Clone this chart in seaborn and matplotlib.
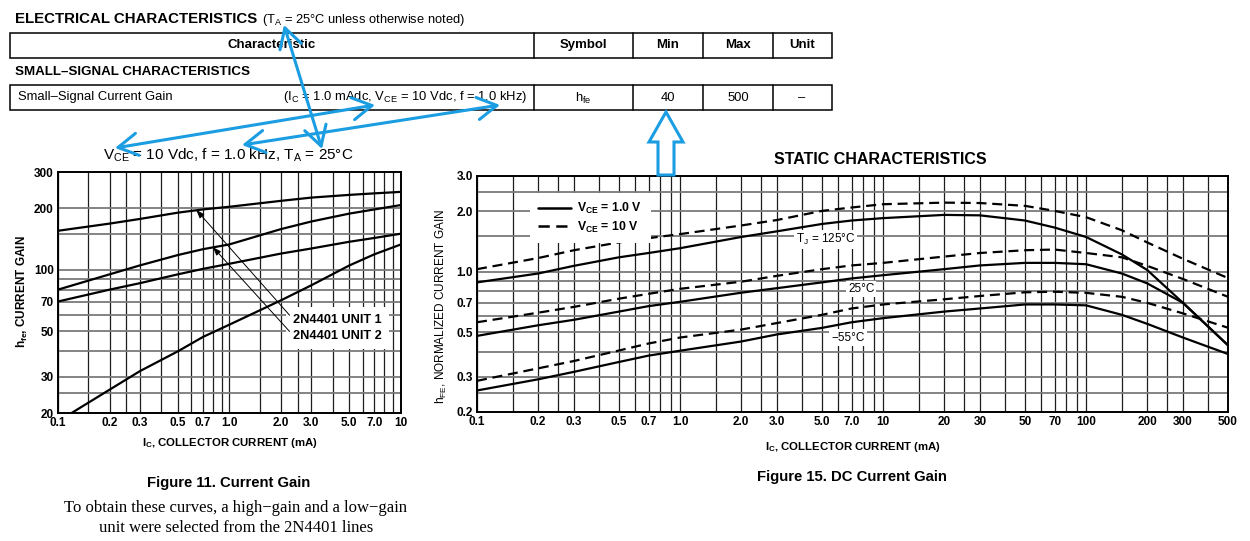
import seaborn as sns
import matplotlib.pyplot as plt
from matplotlib.patches import Rectangle, Polygon, FancyArrowPatch
from matplotlib.lines import Line2D
from matplotlib.ticker import NullFormatter

W, H = 1250, 541

# Figure 11: small-signal current gain vs collector current
ic_ss = [0.1, 0.2, 0.3, 0.5, 0.7, 1.0, 2.0, 3.0, 5.0, 7.0, 10.0]
hfe_1 = [155, 168, 177, 190, 197, 203, 217, 225, 232, 236, 240]
hfe_2 = [80, 95, 105, 118, 126, 133, 158, 172, 188, 197, 207]
hfe_3 = [70, 80, 86, 95, 101, 107, 120, 127, 137, 143, 150]
ic_ss4 = [0.12, 0.2, 0.3, 0.5, 0.7, 1.0, 2.0, 3.0, 5.0, 7.0, 10.0]
hfe_4 = [20, 26, 32, 40, 47, 54, 71, 84, 105, 119, 133]

# Figure 15: DC current gain (normalized)
ic_dc = [0.1, 0.2, 0.3, 0.5, 0.7, 1, 2, 3, 5, 7, 10, 20, 30, 50, 70, 100, 150, 200, 300, 500]
h125_10v = [1.03, 1.17, 1.28, 1.40, 1.47, 1.54, 1.70, 1.81, 2.01, 2.09, 2.17, 2.21, 2.20, 2.13, 2.01, 1.87, 1.61, 1.40, 1.16, 0.93]
h125_1v = [0.885, 0.98, 1.07, 1.18, 1.24, 1.31, 1.49, 1.59, 1.73, 1.80, 1.85, 1.92, 1.91, 1.80, 1.66, 1.49, 1.22, 1.02, 0.70, 0.43]
h25_10v = [0.56, 0.625, 0.668, 0.734, 0.776, 0.822, 0.892, 0.954, 1.03, 1.075, 1.107, 1.19, 1.24, 1.28, 1.29, 1.24, 1.18, 1.07, 0.92, 0.75]
h25_1v = [0.479, 0.541, 0.576, 0.633, 0.674, 0.708, 0.786, 0.828, 0.885, 0.926, 0.961, 1.03, 1.075, 1.107, 1.107, 1.09, 0.98, 0.875, 0.70, 0.43]
hm55_10v = [0.286, 0.33, 0.359, 0.405, 0.439, 0.47, 0.515, 0.555, 0.61, 0.656, 0.687, 0.729, 0.757, 0.79, 0.795, 0.785, 0.75, 0.70, 0.62, 0.526]
hm55_1v = [0.256, 0.291, 0.317, 0.355, 0.382, 0.404, 0.449, 0.487, 0.525, 0.56, 0.587, 0.633, 0.656, 0.687, 0.687, 0.68, 0.61, 0.55, 0.47, 0.389]

ss_xticks = [0.1, 0.2, 0.3, 0.5, 0.7, 1.0, 2.0, 3.0, 5.0, 7.0, 10]
ss_xlabels = ['0.1', '0.2', '0.3', '0.5', '0.7', '1.0', '2.0', '3.0', '5.0', '7.0', '10']
ss_yticks = [20, 30, 50, 70, 100, 200, 300]
dc_xticks = [0.1, 0.2, 0.3, 0.5, 0.7, 1, 2, 3, 5, 7, 10, 20, 30, 50, 70, 100, 200, 300, 500]
dc_xlabels = ['0.1', '0.2', '0.3', '0.5', '0.7', '1.0', '2.0', '3.0', '5.0', '7.0', '10',
              '20', '30', '50', '70', '100', '200', '300', '500']
dc_yticks = [0.2, 0.3, 0.5, 0.7, 1.0, 2.0, 3.0]
dc_ylabels = ['0.2', '0.3', '0.5', '0.7', '1.0', '2.0', '3.0']

steps = [1, 1.5, 2, 2.5, 3, 4, 5, 6, 7, 8, 9]
ss_xgrid = [s * d for d in (0.1, 1) for s in steps] + [10]
dc_xgrid = [s * d for d in (0.1, 1, 10) for s in steps] + [100, 150, 200, 250, 300, 400, 500]
ss_ygrid = [20, 25, 30, 40, 50, 60, 70, 80, 90, 100, 150, 200, 300]
dc_ygrid = [0.2, 0.25, 0.3, 0.4, 0.5, 0.6, 0.7, 0.8, 0.9, 1.0, 1.5, 2.0, 2.5, 3.0]

sns.set_style('white')
plt.rcParams['font.family'] = ['Liberation Sans', 'DejaVu Sans']
plt.rcParams['mathtext.default'] = 'regular'
plt.rcParams['text.color'] = 'black'
plt.rcParams['xtick.color'] = 'black'
plt.rcParams['ytick.color'] = 'black'
NARROW = ['Liberation Sans Narrow', 'Liberation Sans', 'DejaVu Sans']
SERIF = ['Liberation Serif', 'DejaVu Serif']
BLUE = '#1b9de2'
DASH = (0, (4.5, 2.6))

fig = plt.figure(figsize=(W / 100, H / 100), dpi=100)


def fx(x, y):
    return (x / W, 1 - y / H)


def ftext(x, y, s, **kw):
    kw.setdefault('va', 'center')
    fig.text(x / W, 1 - y / H, s, **kw)


def fline(x0, y0, x1, y1, lw=1.1, color='black'):
    fig.add_artist(Line2D([x0 / W, x1 / W], [1 - y0 / H, 1 - y1 / H],
                          transform=fig.transFigure, lw=lw, color=color))


def fbox(x0, y0, x1, y1):
    fig.add_artist(Rectangle(fx(x0, y1), (x1 - x0) / W, (y1 - y0) / H,
                             transform=fig.transFigure, fill=False, lw=1.1, ec='black'))


def make_axes(x0, y0, x1, y1):
    return fig.add_axes([x0 / W, 1 - y1 / H, (x1 - x0) / W, (y1 - y0) / H])


def style_axes(ax, xlim, ylim, xt, xl, yt, yl, xg, yg):
    ax.set_xscale('log')
    ax.set_yscale('log')
    ax.set_xlim(*xlim)
    ax.set_ylim(*ylim)
    ax.set_xticks(xt, xl)
    ax.set_yticks(yt, yl)
    ax.set_xticks(xg, minor=True)
    ax.set_yticks(yg, minor=True)
    ax.xaxis.set_minor_formatter(NullFormatter())
    ax.yaxis.set_minor_formatter(NullFormatter())
    ax.xaxis.remove_overlapping_locs = False
    ax.yaxis.remove_overlapping_locs = False
    ax.tick_params(which='both', length=0, pad=3)
    ax.xaxis.grid(True, which='minor', color='#1e1e1e', lw=0.9)
    ax.yaxis.grid(True, which='minor', color='#7a7a7a', lw=1.3)
    ax.set_axisbelow(True)
    for lab in ax.get_xticklabels() + ax.get_yticklabels():
        lab.set_fontfamily(NARROW)
        lab.set_fontweight('bold')
        lab.set_fontsize(8.5)
    for sp in ax.spines.values():
        sp.set_linewidth(1.4)
        sp.set_color('black')
    ax.set_xlabel('')
    ax.set_ylabel('')


# ---------------- header table ----------------
ftext(15, 19, 'ELECTRICAL CHARACTERISTICS', fontsize=10.8, fontweight='bold')
ftext(262, 20, r'(T$_A$ = 25°C unless otherwise noted)', fontsize=9.3)
cols = [534, 633, 703, 773]
for (ya, yb) in [(33, 58), (85, 110)]:
    fbox(10, ya, 832, yb)
    for c in cols:
        fline(c, ya, c, yb)
for cx, s in zip([272, 583, 668, 738, 802], ['Characteristic', 'Symbol', 'Min', 'Max', 'Unit']):
    ftext(cx, 45, s, fontsize=9.5, fontweight='bold', ha='center')
ftext(15, 72, 'SMALL–SIGNAL CHARACTERISTICS', fontsize=9.6, fontweight='bold')
ftext(18, 97, 'Small–Signal Current Gain', fontsize=9.4)
ftext(527, 97, r'(I$_C$ = 1.0 mAdc, V$_{CE}$ = 10 Vdc, f = 1.0 kHz)', fontsize=9.4, ha='right')
for cx, s in zip([583, 668, 738, 802], [r'h$_{fe}$', '40', '500', '–']):
    ftext(cx, 98, s, fontsize=9.4, ha='center')

# ---------------- Figure 11 ----------------
ax1 = make_axes(58, 172, 401, 413)
for xs, ys in [(ic_ss, hfe_1), (ic_ss, hfe_2), (ic_ss, hfe_3), (ic_ss4, hfe_4)]:
    sns.lineplot(x=xs, y=ys, ax=ax1, color='black', lw=1.6, errorbar=None)
style_axes(ax1, (0.1, 10), (20, 300), ss_xticks, ss_xlabels, ss_yticks,
           [str(v) for v in ss_yticks], ss_xgrid, ss_ygrid)
ax1.text(2.35, 52, '2N4401 UNIT 1\n2N4401 UNIT 2', fontsize=9.2, fontweight='bold',
         fontfamily=NARROW, va='center', ha='left', linespacing=1.45, zorder=3,
         bbox=dict(fc='white', ec='none', pad=5))
for head, tail in [((0.64, 196), (2.24, 60)), ((0.80, 129), (2.24, 50))]:
    ax1.annotate('', xy=head, xytext=tail, zorder=4,
                 arrowprops=dict(arrowstyle='-|>,head_length=0.5,head_width=0.18',
                                 color='black', lw=0.7, shrinkA=0, shrinkB=0))
ftext(228, 155, r'V$_{CE}$ = 10 Vdc, f = 1.0 kHz, T$_A$ = 25°C', fontsize=11, ha='center')
ftext(22, 292, r'h$_{fe}$, CURRENT GAIN', fontsize=8.5, fontweight='bold',
      fontfamily=NARROW, rotation=90, ha='center')
ftext(230, 443, r'I$_C$, COLLECTOR CURRENT (mA)', fontsize=8.2, fontweight='bold',
      fontfamily=NARROW, ha='center')
ftext(229, 483, 'Figure 11. Current Gain', fontsize=10.7, fontweight='bold', ha='center')
ftext(236, 508, 'To obtain these curves, a high−gain and a low−gain', fontsize=12,
      fontfamily=SERIF, ha='center')
ftext(236, 528, 'unit were selected from the 2N4401 lines', fontsize=12,
      fontfamily=SERIF, ha='center')

# ---------------- Figure 15 ----------------
ax2 = make_axes(477, 176, 1228, 412)
for ys, ls in [(h125_10v, DASH), (h125_1v, '-'), (h25_10v, DASH), (h25_1v, '-'),
               (hm55_10v, DASH), (hm55_1v, '-')]:
    sns.lineplot(x=ic_dc, y=ys, ax=ax2, color='black', lw=1.6, linestyle=ls, errorbar=None)
style_axes(ax2, (0.1, 500), (0.2, 3.0), dc_xticks, dc_xlabels, dc_yticks, dc_ylabels,
           dc_xgrid, dc_ygrid)
for (x, y, s) in [(5.2, 1.45, r'T$_J$ = 125°C'), (7.8, 0.82, '25°C'), (6.7, 0.47, '−55°C')]:
    ax2.text(x, y, s, fontsize=8.5, fontfamily=NARROW, ha='center', va='center', zorder=3,
             bbox=dict(fc='white', ec='none', pad=1.5))
handles = [Line2D([], [], color='black', lw=1.8),
           Line2D([], [], color='black', lw=1.8, linestyle=DASH)]
leg = ax2.legend(handles, [r'V$_{CE}$ = 1.0 V', r'V$_{CE}$ = 10 V'], loc='upper left',
                 bbox_to_anchor=(0.062, 0.955), frameon=True, fancybox=False,
                 edgecolor='none', framealpha=1, handlelength=2.7, borderpad=0.7,
                 labelspacing=0.25, handletextpad=0.5,
                 prop=dict(family=NARROW, weight='bold', size=8.8))
ftext(880, 160, 'STATIC CHARACTERISTICS', fontsize=11.5, fontweight='bold', ha='center')
ftext(441, 307, r'h$_{FE}$, NORMALIZED CURRENT GAIN', fontsize=8.5,
      fontfamily=NARROW, rotation=90, ha='center')
ftext(853, 447, r'I$_C$, COLLECTOR CURRENT (mA)', fontsize=8.2, fontweight='bold',
      fontfamily=NARROW, ha='center')
ftext(852, 477, 'Figure 15. DC Current Gain', fontsize=10.7, fontweight='bold', ha='center')

# ---------------- blue callout arrows ----------------
for a, b in [((284, 25), (322, 149)), ((115, 148), (375, 105)), ((242, 145), (500, 105))]:
    fig.add_artist(FancyArrowPatch(fx(*a), fx(*b), transform=fig.transFigure,
                                   arrowstyle='<->,head_length=0.7,head_width=0.4',
                                   mutation_scale=20, color=BLUE, lw=2.2,
                                   shrinkA=0, shrinkB=0, zorder=10))
block = [(666, 112), (683, 142), (674, 142), (674, 175), (658, 175), (658, 142), (649, 142)]
fig.add_artist(Polygon([fx(*p) for p in block], closed=True, transform=fig.transFigure,
                       fc='white', ec=BLUE, lw=2.2, zorder=10))

fig.savefig('out.png', dpi=100)
